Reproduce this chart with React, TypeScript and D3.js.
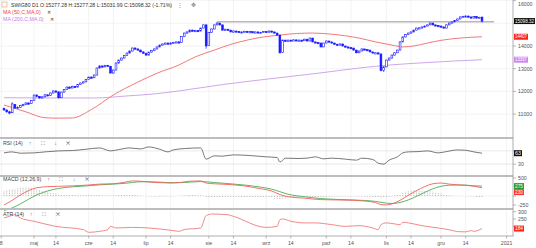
import React from 'react';
import * as d3 from 'd3';

const W = 536;
const H = 248;

const symbolText = 'SWIG80 D1';
const quoteText = 'O:15277.28  H:15277.28  L:15031.99  C:15098.32  (-1.71%)';

// daily candles [open, high, low, close]
const ohlc: [number, number, number, number][] = [
  [11250, 11290, 11150, 11180], [11180, 11220, 11060, 11100], [11100, 11140, 10990, 11050], [11060, 11520, 11040, 11450],
  [11420, 11440, 11230, 11270], [11270, 11340, 11240, 11300], [11300, 11410, 11280, 11380], [11380, 11450, 11350, 11420],
  [11420, 11520, 11400, 11490], [11490, 11510, 11420, 11460], [11460, 11620, 11450, 11600], [11600, 11860, 11590, 11840],
  [11840, 11870, 11750, 11780], [11780, 11800, 11680, 11710], [11710, 11790, 11690, 11760], [11760, 11880, 11740, 11850],
  [11850, 11870, 11790, 11820], [11820, 11950, 11800, 11930], [11930, 12050, 11910, 12020], [12020, 12040, 11950, 11980],
  [11980, 11990, 11690, 11720], [11720, 11990, 11710, 11970], [11970, 12100, 11950, 12080], [12080, 12210, 12060, 12190],
  [12190, 12220, 12120, 12150], [12150, 12250, 12140, 12220], [12220, 12240, 12160, 12190], [12190, 12320, 12180, 12300],
  [12300, 12390, 12280, 12370], [12370, 12440, 12350, 12420], [12420, 12540, 12400, 12520], [12520, 12650, 12500, 12630],
  [12630, 12660, 12570, 12600], [12600, 12740, 12590, 12720], [12720, 13050, 12710, 13030], [13030, 13150, 13010, 13120],
  [13120, 13140, 13050, 13080], [13080, 13170, 13060, 13150], [13150, 13170, 13090, 13110], [13110, 13120, 12790, 12810],
  [12810, 12960, 12780, 12940], [12940, 13270, 12930, 13250], [13250, 13400, 13230, 13380], [13380, 13490, 13360, 13470],
  [13470, 13600, 13450, 13580], [13580, 13710, 13560, 13690], [13690, 13800, 13670, 13780], [13780, 13930, 13760, 13910],
  [13910, 13940, 13850, 13870], [13870, 13890, 13800, 13820], [13820, 13840, 13720, 13740], [13740, 13760, 13660, 13680],
  [13680, 13700, 13570, 13600], [13600, 13750, 13590, 13730], [13730, 13820, 13710, 13800], [13800, 13890, 13780, 13870],
  [13870, 13980, 13850, 13960], [13960, 14060, 13940, 14040], [14040, 14110, 14020, 14090], [14090, 14150, 14070, 14130],
  [14130, 14150, 14080, 14110], [14110, 14160, 14100, 14130], [14130, 14180, 14110, 14160], [14160, 14200, 14140, 14180],
  [14180, 14210, 14130, 14150], [14150, 14440, 14140, 14420], [14420, 14590, 14400, 14570], [14570, 14640, 14550, 14620],
  [14620, 14720, 14600, 14700], [14700, 14720, 14640, 14660], [14660, 14700, 14650, 14680], [14680, 14700, 14630, 14660],
  [14660, 14810, 14650, 14790], [14790, 14950, 14780, 14930], [14930, 14950, 13880, 14000], [14020, 14620, 14000, 14600],
  [14600, 14770, 14580, 14750], [14750, 14950, 14730, 14930], [14930, 15050, 14910, 15010], [15010, 15020, 14900, 14930],
  [14930, 14940, 14680, 14700], [14700, 14760, 14690, 14740], [14740, 14750, 14680, 14700], [14700, 14710, 14600, 14620],
  [14620, 14680, 14610, 14660], [14660, 14670, 14620, 14640], [14640, 14650, 14580, 14600], [14600, 14640, 14590, 14620],
  [14620, 14670, 14610, 14650], [14650, 14660, 14590, 14610], [14610, 14650, 14600, 14630], [14630, 14640, 14580, 14600],
  [14600, 14640, 14590, 14620], [14620, 14630, 14570, 14590], [14590, 14620, 14580, 14600], [14600, 14660, 14590, 14640],
  [14640, 14650, 14590, 14610], [14610, 14680, 14600, 14660], [14660, 14670, 14600, 14620], [14620, 14630, 14550, 14570],
  [14570, 14580, 14460, 14480], [14480, 14490, 13670, 13700], [13720, 14280, 13700, 14260], [14260, 14270, 14180, 14200],
  [14200, 14280, 14190, 14260], [14260, 14270, 14220, 14240], [14240, 14290, 14230, 14270], [14270, 14280, 14230, 14250],
  [14250, 14280, 14240, 14260], [14260, 14270, 14210, 14230], [14230, 14320, 14220, 14300], [14300, 14310, 14200, 14220],
  [14220, 14370, 14210, 14350], [14350, 14360, 14160, 14180], [14180, 14190, 14130, 14150], [14150, 14160, 14110, 14130],
  [14130, 14140, 13940, 13960], [13960, 14150, 13950, 14130], [14130, 14240, 14120, 14220], [14220, 14230, 14160, 14180],
  [14180, 14190, 14110, 14130], [14130, 14140, 14060, 14080], [14080, 14090, 14020, 14040], [14040, 14110, 14030, 14090],
  [14090, 14100, 13980, 14000], [14000, 14010, 13940, 13960], [13960, 13970, 13910, 13930], [13930, 13940, 13890, 13910],
  [13910, 13920, 13800, 13820], [13820, 13830, 13680, 13700], [13700, 13800, 13690, 13780], [13780, 13890, 13770, 13870],
  [13870, 13880, 13820, 13840], [13840, 13850, 13800, 13820], [13820, 13830, 13720, 13740], [13740, 13750, 13670, 13690],
  [13690, 13720, 13680, 13700], [13700, 13710, 13630, 13650], [13650, 13660, 12880, 12920], [12920, 13100, 12850, 13080],
  [13080, 13400, 13060, 13380], [13380, 13490, 13360, 13470], [13470, 13620, 13450, 13600], [13600, 13720, 13580, 13700],
  [13700, 13840, 13690, 13820], [13820, 14200, 13810, 14180], [14180, 14420, 14170, 14400], [14400, 14520, 14380, 14500],
  [14500, 14590, 14480, 14570], [14570, 14640, 14550, 14620], [14620, 14720, 14600, 14700], [14700, 14810, 14690, 14790],
  [14790, 14830, 14760, 14800], [14800, 14860, 14790, 14840], [14840, 14900, 14830, 14880], [14880, 14950, 14870, 14930],
  [14930, 15040, 14920, 15010], [15010, 15020, 14910, 14930], [14930, 14940, 14880, 14900], [14900, 14910, 14860, 14880],
  [14880, 14890, 14820, 14840], [14840, 14850, 14770, 14790], [14790, 14950, 14780, 14930], [14930, 15030, 14920, 15010],
  [15010, 15080, 15000, 15060], [15060, 15140, 15050, 15120], [15120, 15210, 15110, 15190], [15190, 15300, 15180, 15280],
  [15280, 15330, 15260, 15300], [15300, 15350, 15290, 15320], [15320, 15330, 15260, 15280], [15280, 15290, 15210, 15230],
  [15230, 15320, 15220, 15300], [15300, 15310, 15210, 15230], [15230, 15290, 15220, 15260], [15277.28, 15277.28, 15031.99, 15098.32],
];

// moving averages, read at candle indices [index, value]
const ma50: [number, number][] = [
  [0, 11400], [8, 11100], [15, 10840], [20, 10820], [25, 10830], [32, 11200], [40, 11840], [49, 12410], [56, 12800],
  [64, 13160], [70, 13520], [77, 13820], [83, 14070], [89, 14260], [95, 14400], [101, 14480], [107, 14550], [113, 14570],
  [120, 14520], [125, 14450], [130, 14350], [136, 14180], [142, 14040], [146, 13960], [150, 14000], [155, 14130],
  [160, 14250], [167, 14350], [175, 14407],
];
const ma200: [number, number][] = [
  [0, 11720], [20, 11710], [33, 11710], [45, 11800], [56, 11900], [64, 12020], [80, 12300], [97, 12550],
  [115, 12800], [130, 13030], [142, 13170], [152, 13250], [165, 13340], [175, 13397],
];
const levelLine = 15070;
const levelStart = 78;
const priceTicks = [16000, 15000, 14000, 13000, 12000, 11000];

const rsi: [number, number][] = [
  [0, 64], [3, 67], [6, 63], [11, 64], [15, 67], [20, 70], [25, 71], [30, 75], [35, 79], [39, 70], [42, 74], [46, 79],
  [50, 76], [53, 82], [57, 75], [60, 67], [62, 73], [66, 77], [72, 79], [74, 45], [77, 55], [80, 54], [84, 58], [90, 56],
  [96, 52], [100, 50], [101, 36], [103, 48], [108, 47], [111, 48], [114, 52], [117, 46], [120, 48], [125, 45], [129, 42],
  [131, 48], [135, 44], [137, 33], [139, 30], [141, 42], [144, 52], [146, 64], [148, 67], [152, 68], [155, 70], [159, 64],
  [162, 68], [166, 73], [169, 72], [172, 67], [175, 63],
];
const rsiLevels = [70, 30];

const macdLine: [number, number][] = [
  [0, -250], [3, -120], [6, 30], [9, 150], [12, 230], [16, 260], [20, 270], [25, 280], [30, 300], [35, 330], [40, 340],
  [44, 380], [47, 420], [50, 410], [53, 390], [57, 370], [61, 360], [65, 380], [68, 410], [72, 420], [74, 360], [77, 340],
  [82, 320], [88, 280], [94, 200], [98, 140], [101, 40], [104, -20], [110, -60], [116, -100], [122, -110], [128, -120],
  [132, -140], [136, -180], [138, -240], [140, -250], [142, -220], [145, -120], [148, 20], [151, 150], [154, 260],
  [157, 340], [160, 360], [163, 330], [166, 310], [169, 300], [172, 270], [175, 230],
];
const signalLine: [number, number][] = [
  [0, -400], [3, -330], [6, -220], [9, -90], [12, 30], [16, 140], [20, 210], [25, 255], [30, 280], [35, 310], [40, 330],
  [44, 350], [47, 375], [50, 395], [53, 395], [57, 385], [61, 370], [65, 372], [68, 385], [72, 400], [74, 395], [77, 375],
  [82, 345], [88, 305], [94, 245], [98, 190], [101, 120], [104, 50], [110, -20], [116, -70], [122, -95], [128, -110],
  [132, -125], [136, -150], [138, -175], [140, -200], [142, -210], [145, -180], [148, -110], [151, -10], [154, 100],
  [157, 200], [160, 270], [163, 300], [166, 305], [169, 300], [172, 285], [175, 275],
];
const macdHist: number[] = [
  150, 165, 175, 190, 200, 215, 235, 240, 245, 240, 230, 215,
  200, 170, 150, 130, 120, 100, 85, 70, 60, 50, 40, 35,
  30, 28, 25, 22, 20, 22, 25, 24, 22, 20, 25, 22,
  18, 15, 10, 12, 15, 20, 25, 35, 40, 45, 45, 40,
  30, 20, 10, 5, -5, -10, -12, -14, -15, -16, -14, -12,
  -10, -12, -8, 0, 5, 10, 15, 20, 25, 25, 22, 20,
  20, 5, -30, -35, -35, -33, -30, -28, -27, -26, -25, -25,
  -25, -25, -25, -26, -25, -28, -30, -35, -40, -45, -45, -48,
  -50, -50, -50, -70, -80, -80, -72, -70, -62, -55, -48, -45,
  -42, -40, -40, -42, -38, -35, -33, -30, -28, -25, -20, -18,
  -16, -15, -13, -12, -10, -10, -10, -10, -12, -14, -14, -15,
  -15, -18, -22, -26, -30, -45, -65, -50, -35, -20, -10, 20,
  40, 60, 90, 115, 130, 145, 160, 165, 160, 155, 150, 140,
  130, 120, 100, 80, 70, 50, 35, 20, 10, 5, 3, 0,
  0, -2, -5, -10, -15, -25, -35, -45,
];
const macdTicks = [500, 0, -250];

const atr: [number, number][] = [
  [0, 257], [2, 268], [4, 279], [6, 257], [11, 234], [19, 199], [29, 177], [31, 158], [35, 165], [38, 177], [39, 199],
  [41, 188], [47, 192], [53, 188], [62, 170], [64, 165], [66, 177], [72, 188], [74, 273], [76, 284], [82, 279],
  [84, 268], [96, 192], [100, 199], [101, 245], [102, 250], [105, 234], [110, 223], [114, 223], [120, 211], [125, 199],
  [130, 204], [135, 188], [137, 177], [138, 211], [140, 223], [143, 216], [145, 211], [146, 227], [148, 223],
  [153, 204], [159, 188], [164, 172], [166, 163], [169, 161], [171, 170], [172, 165], [175, 184],
];
const atrTicks = [300, 250, 200];

// x-axis labels at trading-day indices
const xTicks: [number, string][] = [
  [-1, '8'], [11, 'maj'], [19, '14'], [31, 'cze'], [40, '14'], [52, 'lip'], [61, '14'], [75, 'sie'], [84, '14'],
  [96, 'wrz'], [105, '14'], [118, 'paź'], [127, '14'], [140, 'lis'], [149, '14'], [160, 'gru'], [169, '14'], [184, '2021'],
];

const FONT = "'Liberation Sans', Arial, sans-serif";
const AXIS_X = 513;

export default function App() {
  const x = d3.scaleLinear().domain([0, ohlc.length - 1]).range([4, 482]);
  const yP = d3.scaleLinear().domain([10000, 16000]).range([136.8, 0.6]);
  const yR = d3.scaleLinear().domain([0, 100]).range([174, 141]);
  const yM = d3.scaleLinear().domain([0, 500]).range([196, 178]);
  const yA = d3.scaleLinear().domain([300, 150]).range([211.7, 233.5]);

  const mk = (ys: d3.ScaleLinear<number, number>) =>
    d3.line<[number, number]>().x((d) => x(d[0])).y((d) => ys(d[1])).curve(d3.curveMonotoneX);

  const bw = 1.8;
  const last = ohlc[ohlc.length - 1][3];
  const lastMa50 = ma50[ma50.length - 1][1];
  const lastMa200 = ma200[ma200.length - 1][1];
  const lastRsi = rsi[rsi.length - 1][1];
  const lastSig = signalLine[signalLine.length - 1][1];
  const lastMacd = macdLine[macdLine.length - 1][1];
  const lastAtr = atr[atr.length - 1][1];

  const sigY = yM(lastSig);
  const tags = [
    { y: yP(last), text: d3.format('.2f')(last), bg: '#111', w: 21 },
    { y: yP(lastMa50), text: String(lastMa50), bg: '#ff2222', w: 14 },
    { y: yP(lastMa200), text: String(lastMa200), bg: '#cc88ee', w: 14 },
    { y: yR(lastRsi), text: String(lastRsi), bg: '#111', w: 8 },
    { y: sigY, text: String(lastSig), bg: '#2a9d2a', w: 10 },
    { y: Math.max(yM(lastMacd), sigY + 6), text: String(lastMacd), bg: '#ff3333', w: 10 },
    { y: yA(lastAtr), text: String(lastAtr), bg: '#ff2222', w: 10 },
  ];
  const hidden = (yy: number) => tags.some((t) => Math.abs(t.y - yy) < 5.5);

  const axisLabel = (yy: number, text: string) => (
    <g>
      <line x1={AXIS_X} x2={AXIS_X + 3} y1={yy} y2={yy} stroke="#888" strokeWidth={0.6} />
      {!hidden(yy) && (
        <text x={AXIS_X + 5} y={Math.max(yy + 2, 6)} fontSize={5.2} fill="#555" fontFamily={FONT}>{text}</text>
      )}
    </g>
  );

  const panelLabel = (yy: number, text: string, icons: string) => (
    <text x={3} y={yy} fontSize={5.3} fill="#444" fontFamily={FONT}>
      {text}
      <tspan fill="#666" dx={6} letterSpacing={4}>{icons}</tspan>
    </text>
  );

  return (
    <svg width={W} height={H} style={{ position: 'absolute', left: 0, top: 0, background: '#fff' }}>
      <rect width={W} height={H} fill="#fff" />
      {/* vertical grid */}
      {xTicks.map(([i], k) => (
        <line key={'vg' + k} x1={x(i)} x2={x(i)} y1={0} y2={236} stroke="#f0f0f0" strokeWidth={0.8} />
      ))}
      {/* horizontal grid main */}
      {priceTicks.map((t) => (
        <line key={'hg' + t} x1={0} x2={AXIS_X} y1={yP(t)} y2={yP(t)} stroke="#f0f0f0" strokeWidth={0.8} />
      ))}
      {rsiLevels.map((t) => (
        <line key={'rl' + t} x1={0} x2={AXIS_X} y1={yR(t)} y2={yR(t)} stroke="#e4e4e4" strokeWidth={0.8} />
      ))}
      <line x1={0} x2={AXIS_X} y1={yM(0)} y2={yM(0)} stroke="#f0f0f0" strokeWidth={0.8} />

      {/* level line */}
      <line x1={x(levelStart)} x2={494} y1={yP(levelLine)} y2={yP(levelLine)} stroke="#b8b8b8" strokeWidth={1.6} />

      {/* MAs */}
      <path d={mk(yP)(ma200) || ''} fill="none" stroke="#cfa6ee" strokeWidth={1} />
      <path d={mk(yP)(ma50) || ''} fill="none" stroke="#f07a7a" strokeWidth={1} />

      {/* candles */}
      {ohlc.map(([o, h, l, c], i) => {
        const up = c >= o;
        const top = yP(Math.max(o, c));
        const bot = yP(Math.min(o, c));
        return (
          <g key={'c' + i}>
            <line x1={x(i)} x2={x(i)} y1={yP(h)} y2={yP(l)} stroke="#1a1aff" strokeWidth={0.7} />
            <rect
              x={x(i) - bw / 2}
              y={top}
              width={bw}
              height={Math.max(bot - top, 1.2)}
              fill={up ? '#fff' : '#1a1aff'}
              stroke="#1a1aff"
              strokeWidth={0.6}
            />
          </g>
        );
      })}

      {/* header */}
      <rect x={2} y={2} width={5} height={5} fill="none" stroke="#e0a060" strokeWidth={0.6} />
      <text x={11} y={7} fontSize={5.3} fill="#333" fontFamily={FONT} textLength={161} lengthAdjust="spacingAndGlyphs">
        {symbolText + '  ' + quoteText}
      </text>
      <text x={177} y={7} fontSize={5.5} fill="#777" fontFamily={FONT}>⋮</text>
      <text x={191} y={7} fontSize={5.5} fill="#777" fontFamily={FONT}>✥</text>
      <text x={3} y={14} fontSize={5.3} fill="#ee4444" fontFamily={FONT}>
        MA (50,C,MA,0)<tspan dx={6} fill="#333">✕</tspan>
      </text>
      <text x={3} y={21} fontSize={5.3} fill="#c77ce8" fontFamily={FONT}>
        MA (200,C,MA,0)<tspan dx={6} fill="#333">✕</tspan>
      </text>

      {/* RSI */}
      <path d={mk(yR)(rsi) || ''} fill="none" stroke="#555" strokeWidth={0.8} />
      {panelLabel(145, 'RSI (14)', '↑ ⛶ ↓ ✕')}

      {/* MACD */}
      {macdHist.map((v, i) => (
        <line
          key={'h' + i}
          x1={x(i)}
          x2={x(i)}
          y1={yM(0)}
          y2={yM(v)}
          stroke="#9a9a9a"
          strokeWidth={0.7}
          strokeDasharray="1,0.8"
        />
      ))}
      <path d={mk(yM)(signalLine) || ''} fill="none" stroke="#4caf50" strokeWidth={0.9} />
      <path d={mk(yM)(macdLine) || ''} fill="none" stroke="#f06060" strokeWidth={0.9} />
      {panelLabel(181, 'MACD (12,26,9)', '↑ ⛶ ↓ ✕')}

      {/* ATR */}
      <path d={mk(yA)(atr) || ''} fill="none" stroke="#f07a7a" strokeWidth={0.9} />
      {panelLabel(216, 'ATR (14)', '↑ ⛶ ✕')}

      {/* separators */}
      <line x1={0} x2={AXIS_X} y1={138} y2={138} stroke="#bdbdbd" strokeWidth={1.8} />
      <line x1={0} x2={AXIS_X} y1={176} y2={176} stroke="#bdbdbd" strokeWidth={1.8} />
      <line x1={0} x2={AXIS_X} y1={209} y2={209} stroke="#bdbdbd" strokeWidth={1.8} />
      <line x1={0} x2={AXIS_X + 0.5} y1={236} y2={236} stroke="#999" strokeWidth={0.8} />
      <line x1={AXIS_X} x2={AXIS_X} y1={0} y2={236} stroke="#999" strokeWidth={0.8} />

      {/* right axes */}
      {priceTicks.map((t) => <g key={'pt' + t}>{axisLabel(yP(t), String(t))}</g>)}
      {rsiLevels.map((t) => <g key={'rt' + t}>{axisLabel(yR(t), String(t))}</g>)}
      {macdTicks.map((t) => <g key={'mt' + t}>{axisLabel(yM(t), String(t))}</g>)}
      {atrTicks.map((t) => <g key={'at' + t}>{axisLabel(yA(t), String(t))}</g>)}

      {tags.map((t, k) => (
        <g key={'tag' + k}>
          <rect x={AXIS_X + 1} y={t.y - 3} width={t.w} height={6} fill={t.bg} />
          <text
            x={AXIS_X + 2}
            y={t.y + 1.7}
            fontSize={4.8}
            fill="#fff"
            fontFamily={FONT}
            textLength={t.w - 2}
            lengthAdjust="spacingAndGlyphs"
          >
            {t.text}
          </text>
        </g>
      ))}

      {/* x axis */}
      {xTicks.map(([i, s], k) => (
        <g key={'xt' + k}>
          <line x1={x(i)} x2={x(i)} y1={236} y2={238.5} stroke="#888" strokeWidth={0.6} />
          <text x={x(i)} y={244.5} fontSize={5.2} fill="#555" textAnchor="middle" fontFamily={FONT}>{s}</text>
        </g>
      ))}
    </svg>
  );
}
